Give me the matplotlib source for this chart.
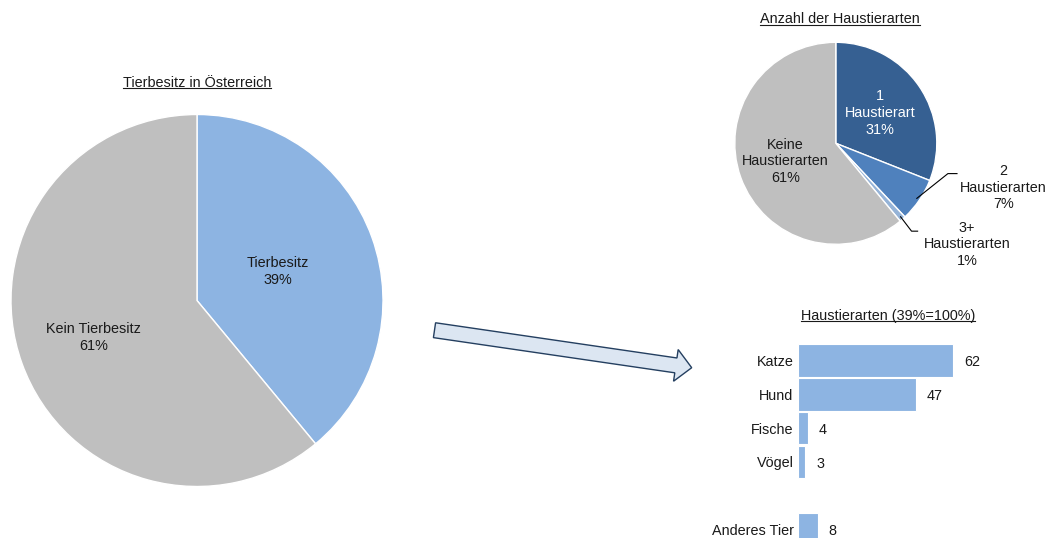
import numpy as np
import matplotlib
matplotlib.use("Agg")
import matplotlib.pyplot as plt
from matplotlib.patches import FancyArrow
from matplotlib.lines import Line2D

plt.rcParams['font.family'] = ['Liberation Sans', 'DejaVu Sans']

# ---- data ----
main_labels = ["Tierbesitz", "Kein Tierbesitz"]
main_values = [39, 61]

count_labels = ["1\nHaustierart", "2\nHaustierarten", "3+\nHaustierarten", "Keine\nHaustierarten"]
count_values = [31, 7, 1, 61]

bar_categories = ["Katze", "Hund", "Fische", "Vögel", "Anderes Tier"]
bar_values = [62, 47, 4, 3, 8]
bar_rows = [0, 1, 2, 3, 5]

W, H = 1049, 538
FS = 10.4
LS = 1.25
fig = plt.figure(figsize=(W / 100, H / 100), dpi=100)


def px_axes(cx, cy, r):
    return fig.add_axes([(cx - r) / W, (H - cy - r) / H, 2 * r / W, 2 * r / H])


# ---- big pie ----
ax1 = px_axes(197, 300.5, 186)
w1, _ = ax1.pie(main_values, colors=["#8DB4E2", "#BFBFBF"], startangle=90,
                counterclock=False, radius=1,
                wedgeprops=dict(edgecolor="white", linewidth=1))
ax1.set_xlim(-1, 1); ax1.set_ylim(-1, 1); ax1.set_aspect("equal"); ax1.axis("off")
for w, lab, v, d in zip(w1, main_labels, main_values, [0.46, 0.59]):
    a = np.deg2rad((w.theta1 + w.theta2) / 2)
    ax1.text(d * np.cos(a), d * np.sin(a), f"{lab}\n{v}%", ha="center", va="center",
             fontsize=FS, color="#1a1a1a", linespacing=LS)

# ---- small pie ----
ax2 = px_axes(835.8, 143.3, 101)
w2, _ = ax2.pie(count_values, colors=["#366092", "#4F81BD", "#95B3D7", "#BFBFBF"],
                startangle=90, counterclock=False, radius=1,
                wedgeprops=dict(edgecolor="white", linewidth=1))
ax2.set_xlim(-1, 1); ax2.set_ylim(-1, 1); ax2.set_aspect("equal"); ax2.axis("off")
for i in (0, 3):
    w = w2[i]
    a = np.deg2rad((w.theta1 + w.theta2) / 2)
    d = 0.53
    ax2.text(d * np.cos(a), d * np.sin(a), f"{count_labels[i]}\n{count_values[i]}%",
             ha="center", va="center", fontsize=FS,
             color="white" if i == 0 else "#1a1a1a", linespacing=LS)
# outside labels with leader lines
outside = {1: dict(elbow=(1.11, -0.30), end=(1.20, -0.30), text=(1.66, -0.44)),
           2: dict(elbow=(0.75, -0.87), end=(0.81, -0.87), text=(1.30, -1.00))}
for i, o in outside.items():
    w = w2[i]
    a = np.deg2rad((w.theta1 + w.theta2) / 2)
    p0 = (0.97 * np.cos(a), 0.97 * np.sin(a))
    ax2.plot([p0[0], o["elbow"][0], o["end"][0]], [p0[1], o["elbow"][1], o["end"][1]],
             color="black", lw=0.8, clip_on=False)
    ax2.text(o["text"][0], o["text"][1], f"{count_labels[i]}\n{count_values[i]}%",
             ha="center", va="center", fontsize=FS, color="#1a1a1a", linespacing=LS)

# ---- bar chart ----
row_px = 33.8
top_px = 360.6 - row_px / 2
n_rows = 6
bottom_px = top_px + n_rows * row_px
x0_px = 797.7
px_per_unit = 2.51
xmax = 70
ax3 = fig.add_axes([x0_px / W, (H - bottom_px) / H, xmax * px_per_unit / W, n_rows * row_px / H])
ax3.barh(bar_rows, bar_values, height=0.955, color="#8DB4E2", edgecolor="white", linewidth=0.8)
ax3.set_ylim(n_rows - 0.5, -0.5)
ax3.set_xlim(0, xmax)
ax3.set_yticks(bar_rows)
ax3.set_yticklabels(bar_categories, fontsize=FS, color="#1a1a1a")
ax3.tick_params(axis="y", length=0, pad=3)
for lbl in ax3.get_yticklabels():
    lbl.set_va("center_baseline")
ax3.set_xticks([])
for s in ax3.spines.values():
    s.set_visible(False)
ax3.patch.set_alpha(0)
for y, v in zip(bar_rows, bar_values):
    ax3.annotate(str(v), (v, y), xytext=(11, 0), textcoords="offset pixels",
                 ha="left", va="center_baseline", fontsize=FS, color="#1a1a1a")

# ---- arrow overlay ----
ov = fig.add_axes([0, 0, 1, 1], zorder=-1)
ov.set_xlim(0, W); ov.set_ylim(H, 0); ov.axis("off")
tail = (434.5, 330.2); tip = (691.7, 367.7)
ov.add_patch(FancyArrow(tail[0], tail[1], tip[0] - tail[0], tip[1] - tail[1],
                        width=15, head_width=32, head_length=16,
                        length_includes_head=True, facecolor="#DCE6F2",
                        edgecolor="#243F60", linewidth=1))

# ---- underlined titles ----
titles = [("Tierbesitz in Österreich", 197, 83),
          ("Anzahl der Haustierarten", 840, 19),
          ("Haustierarten (39%=100%)", 887.7, 315.7)]
ttexts = []
for t, x, y in titles:
    ttexts.append(fig.text(x / W, (H - y) / H, t, ha="center", va="center",
                           fontsize=FS, color="#1a1a1a"))
fig.canvas.draw()
r = fig.canvas.get_renderer()
for tt in ttexts:
    bb = tt.get_window_extent(r)
    yl = bb.y0 + 1.5
    fig.add_artist(Line2D([bb.x0 / W, bb.x1 / W], [yl / H, yl / H],
                          transform=fig.transFigure, color="#1a1a1a", lw=0.8))

fig.savefig("out.png", dpi=100)
